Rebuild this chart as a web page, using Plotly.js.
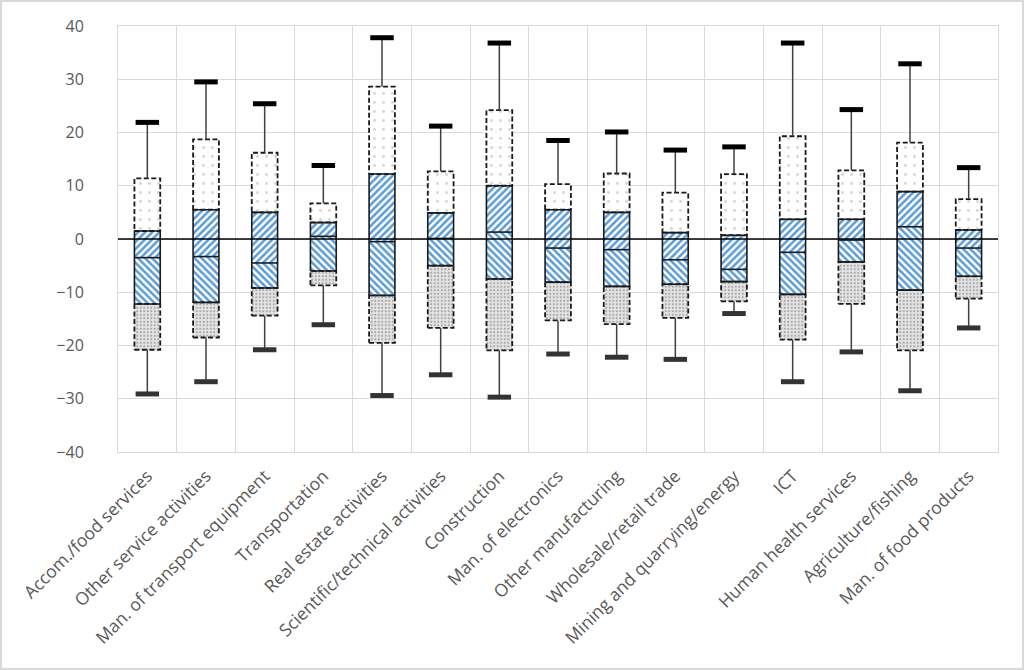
<!DOCTYPE html>
<html>
<head>
<meta charset="utf-8">
<script src="https://cdn.plot.ly/plotly-3.0.1.min.js"></script>
<style>
html,body{margin:0;padding:0;background:#fff;}
#chart{width:1024px;height:670px;outline:2px solid #d9d9d9;outline-offset:-2px;}
</style>
</head>
<body>
<div id="chart"></div>
<script>
var categories = ["Accom./food services","Other service activities","Man. of transport equipment","Transportation","Real estate activities","Scientific/technical activities","Construction","Man. of electronics","Other manufacturing","Wholesale/retail trade","Mining and quarrying/energy","ICT","Human health services","Agriculture/fishing","Man. of food products"];
var maxVals = [21.9, 29.5, 25.4, 13.8, 37.8, 21.2, 36.8, 18.5, 20.1, 16.7, 17.3, 36.8, 24.3, 32.9, 13.4];
var p90     = [11.4, 18.7, 16.2, 6.7, 28.6, 12.7, 24.2, 10.3, 12.3, 8.7, 12.2, 19.3, 12.9, 18.1, 7.5];
var p75     = [1.5, 5.5, 5.0, 3.1, 12.2, 4.9, 10.0, 5.5, 5.0, 1.2, 0.7, 3.7, 3.7, 8.9, 1.7];
var median  = [-3.5, -3.3, -4.5, 0.5, -0.5, 0.1, 1.3, -1.7, -2.0, -3.9, -5.7, -2.5, -0.2, 2.3, -1.7];
var p25     = [-12.2, -11.9, -9.2, -6.0, -10.6, -5.0, -7.5, -8.1, -8.9, -8.5, -8.0, -10.4, -4.3, -9.6, -7.0];
var p10     = [-20.8, -18.5, -14.4, -8.7, -19.5, -16.7, -20.9, -15.3, -16.0, -14.8, -11.7, -18.9, -12.2, -20.9, -11.2];
var minVals = [-29.1, -26.8, -20.8, -16.1, -29.4, -25.5, -29.7, -21.6, -22.2, -22.6, -14.0, -26.8, -21.2, -28.5, -16.7];

var xs = categories.map(function(_, i){ return i; });
var BW = 0.44, CW = 0.4;

function diff(a, b){ return a.map(function(v, i){ return v - b[i]; }); }

var traces = [];
// fills
traces.push({type:'bar', x:xs, y:diff(p25,p10), base:p10, width:BW, hoverinfo:'skip',
  marker:{color:'#e2e2e2', line:{width:0}, pattern:{shape:'.', fgcolor:'#a8a8a8', bgcolor:'#e4e4e4', size:3.5, solidity:0.3}}});
traces.push({type:'bar', x:xs, y:diff(median,p25), base:p25, width:BW, hoverinfo:'skip',
  marker:{color:'#ffffff', line:{width:0}, pattern:{shape:'\\', fgcolor:'#5b9bd5', bgcolor:'#ffffff', size:5, solidity:0.5}}});
traces.push({type:'bar', x:xs, y:diff(p75,median), base:median, width:BW, hoverinfo:'skip',
  marker:{color:'#ffffff', line:{width:0}, pattern:{shape:'/', fgcolor:'#5b9bd5', bgcolor:'#ffffff', size:5, solidity:0.5}}});
traces.push({type:'bar', x:xs, y:diff(p90,p75), base:p75, width:BW, hoverinfo:'skip',
  marker:{color:'#ffffff', line:{width:0}, pattern:{shape:'.', fgcolor:'#d6d6d6', bgcolor:'#ffffff', size:9, solidity:0.08}}});

// outlines helper
function rectPath(lo, hi, w){
  var X = [], Y = [];
  xs.forEach(function(x, i){
    X.push(x-w/2, x+w/2, x+w/2, x-w/2, x-w/2, null);
    Y.push(lo[i], lo[i], hi[i], hi[i], lo[i], null);
  });
  return {x:X, y:Y};
}
var lowR = rectPath(p10, p25, BW);
traces.push({type:'scatter', mode:'lines', x:lowR.x, y:lowR.y, hoverinfo:'skip',
  line:{color:'#1a1a1a', width:1.8, dash:'5px,2.5px'}});
var upR = rectPath(p75, p90, BW);
traces.push({type:'scatter', mode:'lines', x:upR.x, y:upR.y, hoverinfo:'skip',
  line:{color:'#1a1a1a', width:1.8, dash:'5px,2.5px'}});
var midR = rectPath(p25, p75, BW);
traces.push({type:'scatter', mode:'lines', x:midR.x, y:midR.y, hoverinfo:'skip',
  line:{color:'#1a1a1a', width:1.6}});
// median lines
var mX = [], mY = [];
xs.forEach(function(x, i){ mX.push(x-BW/2, x+BW/2, null); mY.push(median[i], median[i], null); });
traces.push({type:'scatter', mode:'lines', x:mX, y:mY, hoverinfo:'skip', line:{color:'#1a1a1a', width:1.6}});
// whiskers
var wX = [], wY = [];
xs.forEach(function(x, i){
  wX.push(x, x, null, x, x, null);
  wY.push(p90[i], maxVals[i], null, p10[i], minVals[i], null);
});
traces.push({type:'scatter', mode:'lines', x:wX, y:wY, hoverinfo:'skip', line:{color:'#404040', width:1.5}});
// caps
var cX = [], cYmax = [], cYmin = [];
xs.forEach(function(x, i){
  cX.push(x-CW/2, x+CW/2, null);
  cYmax.push(maxVals[i], maxVals[i], null);
  cYmin.push(minVals[i], minVals[i], null);
});
traces.push({type:'scatter', mode:'lines', x:cX, y:cYmax, hoverinfo:'skip', line:{color:'#000000', width:5}});
traces.push({type:'scatter', mode:'lines', x:cX, y:cYmin, hoverinfo:'skip', line:{color:'#333333', width:5}});

var layout = {
  width:1024, height:670,
  margin:{l:118, r:26, t:26, b:218},
  paper_bgcolor:'rgba(0,0,0,0)', plot_bgcolor:'#ffffff',
  showlegend:false, barmode:'overlay',
  font:{family:'Open Sans, sans-serif', color:'#595959'},
  xaxis:{range:[-0.5, 14.5], tickmode:'array', tickvals:xs, ticktext:categories,
    tickangle:-45, showgrid:false, zeroline:false, ticks:'', ticklabelstandoff:6,
    tickfont:{size:17.5, color:'#595959'},
    showline:true, linecolor:'#d9d9d9', linewidth:1, mirror:true,
    minor:{tickmode:'linear', tick0:-0.5, dtick:1, showgrid:true, gridcolor:'#d9d9d9', gridwidth:1, ticks:''}},
  yaxis:{range:[-40, 40], dtick:10, tick0:0, showgrid:true, gridcolor:'#d9d9d9', gridwidth:1,
    zeroline:false, ticks:'', ticklabelstandoff:30,
    tickfont:{size:16, color:'#595959'},
    showline:true, linecolor:'#d9d9d9', linewidth:1, mirror:true},
  shapes:[{type:'line', xref:'paper', yref:'y', x0:0, x1:1, y0:0, y1:0, layer:'above',
    line:{color:'#000000', width:1.5}}]
};

Plotly.newPlot('chart', traces, layout, {displayModeBar:false, staticPlot:true});
</script>
</body>
</html>
